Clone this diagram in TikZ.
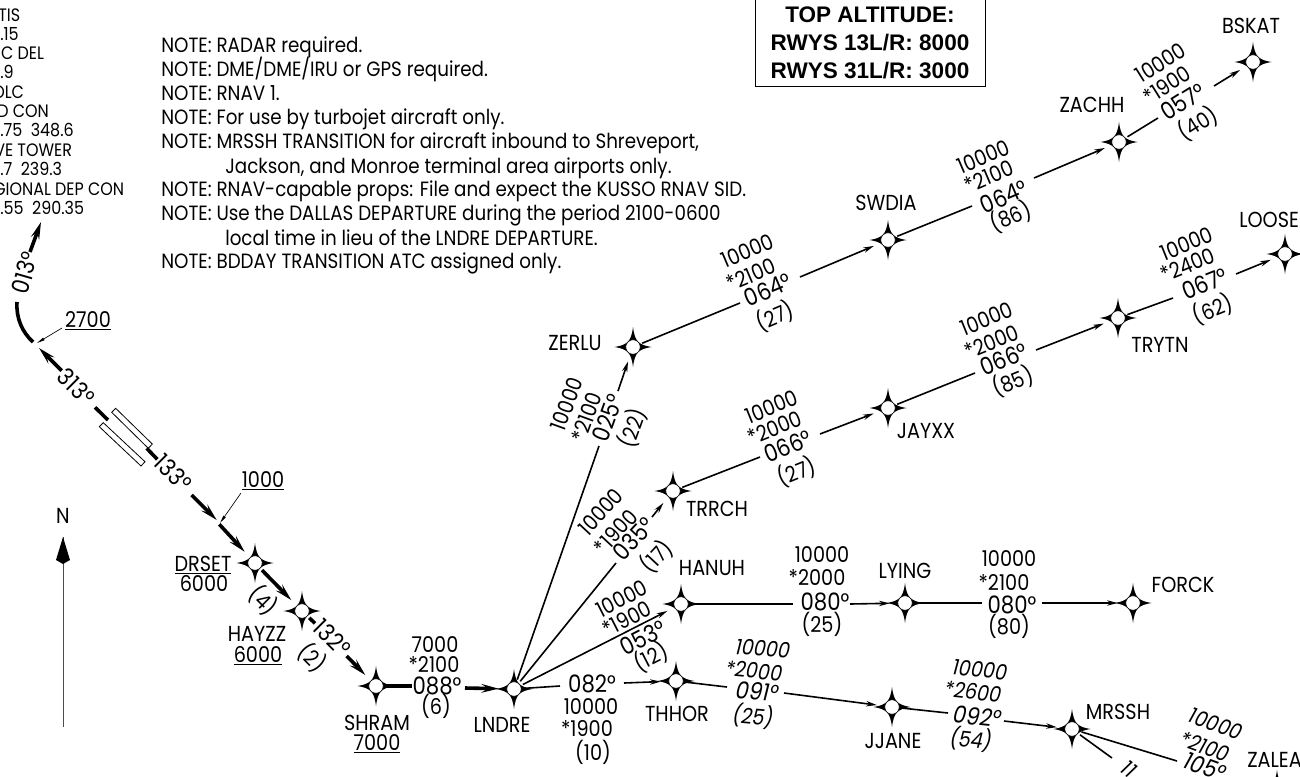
\documentclass[tikz,border=0pt]{standalone}
\usepackage{fontspec}
\setmainfont{Poppins}[FakeStretch=0.885]
\newfontfamily\boxfont{Liberation Sans}
\usetikzlibrary{arrows.meta}
\tikzset{
  x=0.75pt,y=-0.75pt,
  lab/.style={inner sep=0pt,text height=11.5pt,text depth=0pt,font=\fontsize{16.3}{17}\selectfont},
  ital/.style={lab,font=\fontsize{16.3}{17}\selectfont\itshape},
  deg/.style={inner sep=0pt,text height=12.6pt,text depth=0pt,font=\fontsize{18}{19}\selectfont},
  degi/.style={deg,font=\fontsize{18}{19}\selectfont\itshape},
  note/.style={inner sep=0pt,text height=10.8pt,text depth=0pt,anchor=west,font=\fontsize{15.5}{16}\selectfont},
  freq/.style={inner sep=0pt,text height=9.5pt,text depth=0pt,anchor=west,font=\fontsize{13.5}{14}\selectfont},
  wpnode/.style={circle,minimum size=22.5pt,inner sep=0pt},
  conn/.style={line width=1.2pt,black,shorten <=-4pt},
  arr/.style={line width=1.2pt,black,-{Stealth[length=8pt,width=4pt,inset=2.5pt]}},
  thk/.style={line width=2.7pt,black},
  thkw/.style={thk,shorten <=-4pt},
  thkarr/.style={thk,-{Stealth[length=13pt,width=6.5pt,inset=5pt]}},
  leader/.style={line width=0.5pt,black,-{Stealth[length=6pt,width=2pt,inset=0pt]}},
  hair/.style={line width=0.6pt,black},
  titlebox/.style={font=\boxfont\bfseries\fontsize{16.9}{21}\selectfont,inner sep=0pt,align=center},
}
\newcommand\wpt[3]{%
  \fill[black,shift={(#2,#3)}] (0,-20) .. controls (1,-12) and (2.5,-8) .. (5.2,-5.2)
    .. controls (8,-2.5) and (12,-1) .. (18.5,0)
    .. controls (12,1) and (8,2.5) .. (5.2,5.2)
    .. controls (2.5,8) and (1,12) .. (0,20)
    .. controls (-1,12) and (-2.5,8) .. (-5.2,5.2)
    .. controls (-8,2.5) and (-12,1) .. (-18.5,0)
    .. controls (-12,-1) and (-8,-2.5) .. (-5.2,-5.2)
    .. controls (-2.5,-8) and (-1,-12) .. (0,-20) -- cycle;
  \filldraw[fill=white,draw=black,line width=0.4pt,shift={(#2,#3)}] (0,0) circle[radius=5.4pt];
  \node[wpnode] (#1) at (#2,#3) {};}
\begin{document}
\begin{tikzpicture}
\useasboundingbox (0,0) rectangle (1300,776);
\fill[white] (0,0) rectangle (1300,776);
% waypoints
\wpt{DRSET}{255}{563}\wpt{HAYZZ}{302}{611}\wpt{SHRAM}{376}{686}\wpt{LNDRE}{514}{689}
\wpt{THHOR}{676}{681}\wpt{HANUH}{681}{604}\wpt{TRRCH}{673}{491}\wpt{ZERLU}{633}{347}
\wpt{JAYXX}{888}{408}\wpt{SWDIA}{888}{240}\wpt{ZACHH}{1119}{142}\wpt{BSKAT}{1253}{62}
\wpt{TRYTN}{1118}{318}\wpt{LOOSE}{1285}{254}\wpt{LYING}{905}{603}\wpt{FORCK}{1133}{603}
\wpt{JJANE}{892}{707}\wpt{MRSSH}{1072}{729}\wpt{ZALEA}{1277}{790}
% box
\node[draw=black,line width=0.6pt,minimum width=172.5pt,minimum height=69pt,inner sep=0pt] (topbox) at (870,40) {};
\node[titlebox] (topt) at (870,43) {TOP ALTITUDE:\\RWYS 13L/R: 8000\\RWYS 31L/R: 3000};
% frequency list
\node[freq] (f1) at (-2,15) {TIS};
\node[freq] (f2) at (0,34) {.15};
\node[freq] (f3) at (-3,53) {IC DEL};
\node[freq] (f4) at (0,72) {.9};
\node[freq] (f5) at (-8,92) {OLC};
\node[freq] (f6) at (-3,111) {D CON};
\node[freq] (f7) at (0,130) {.75\ \ 348.6};
\node[freq] (f8) at (-6,150) {VE TOWER};
\node[freq] (f9) at (0,169) {.7\ \ 239.3};
\node[freq] (f10) at (-7,189) {GIONAL DEP CON};
\node[freq] (f11) at (0,208) {.55\ \ 290.35};
% notes
\node[note] (n1) at (161,45) {NOTE: RADAR required.};
\node[note] (n2) at (161,69) {NOTE: DME/DME/IRU or GPS required.};
\node[note] (n3) at (161,93) {NOTE: RNAV 1.};
\node[note] (n4) at (161,117) {NOTE: For use by turbojet aircraft only.};
\node[note] (n5) at (161,141) {NOTE: MRSSH TRANSITION for aircraft inbound to Shreveport,};
\node[note] (n6) at (225,166) {Jackson, and Monroe terminal area airports only.};
\node[note] (n7) at (161,189) {NOTE: RNAV-capable props: File and expect the KUSSO RNAV SID.};
\node[note] (n8) at (161,213) {NOTE: Use the DALLAS DEPARTURE during the period 2100-0600};
\node[note] (n9) at (225,238) {local time in lieu of the LNDRE DEPARTURE.};
\node[note] (n10) at (161,261) {NOTE: BDDAY TRANSITION ATC assigned only.};
% north arrow
\node[lab] (N) at (63,516) {N};
\coordinate (nb) at (63,727);
\coordinate (nt) at (63,537);
\draw[line width=0.7pt,black!70] (nb) -- (nt);
\fill[black] (nt) -- (70,560) -- (63,564) -- (56,560) -- cycle;
% runway
\draw[hair] (115.7,408.3) -- (152.3,444) -- (148.3,448.3) -- (111.7,412.3) -- cycle;
\draw[hair] (103.3,422.7) -- (145,461.7) -- (141,466) -- (99.3,426.7) -- cycle;
% initial climb
\coordinate (a1) at (95,407.3);\coordinate (a2) at (108,420);
\coordinate (a3) at (146.7,448.3);\coordinate (a4) at (157.3,459.3);
\coordinate (a5) at (191.7,495);\coordinate (a6) at (216.7,520);
\coordinate (a7) at (219.3,524.3);
\coordinate (a8) at (61.7,370.7);\coordinate (a9) at (39,348);
\coordinate (a10) at (33,342);\coordinate (a11) at (17,302);
\coordinate (a12) at (30,252);\coordinate (a13) at (41,222);
\draw[thk] (a1) -- (a2);
\draw[thk] (a3) -- (a4);
\draw[thkarr] (a5) -- (a6);
\draw[thkarr] (a7) -- (DRSET);
\draw[thkarr,shorten <=-4pt] (DRSET) -- (HAYZZ);
\coordinate (a14) at (315,623.3);
\draw[thkw] (HAYZZ) -- (a14);
\coordinate (a15) at (346.7,656);
\draw[thkarr] (a15) -- (SHRAM);
\coordinate (a16) at (411.7,686);\coordinate (a17) at (465,688);
\draw[thkw] (SHRAM) -- (a16);
\draw[thkarr] (a17) -- (LNDRE);
\draw[thkarr] (a8) -- (a9);
\draw[thk] (a10) .. controls (22,332) and (16,318) .. (a11);
\draw[thkarr] (a12) -- (a13);
\node[deg,rotate=-45] (d313) at (76,387) {313°};
\node[deg,rotate=-45] (d133) at (173,473) {133°};
\node[deg,rotate=74] (d013) at (25,273) {013°};
\node[deg,rotate=-45] (d132) at (332,638) {132°};
\node[lab,anchor=center] (alt27) at (88,320) {\underline{2700}};
\coordinate (l27) at (62,328);\coordinate (l27e) at (37,343);
\draw[leader] (l27) -- (l27e);
\node[lab] (alt10) at (263,480) {\underline{1000}};
\coordinate (l10) at (241,493);\coordinate (l10e) at (220,523);
\draw[leader] (l10) -- (l10e);
\node[lab,rotate=-45] (p4) at (263,601) {(4)};
\node[lab,rotate=-45] (p2) at (312,658) {(2)};
\node[lab] (tDRSET) at (203,564) {\underline{DRSET}};
\node[lab] (aDRSET) at (204,584) {6000};
\node[lab] (tHAYZZ) at (257,634) {HAYZZ};
\node[lab] (aHAYZZ) at (258,655) {\underline{6000}};
\node[lab] (tSHRAM) at (377,723) {SHRAM};
\node[lab] (aSHRAM) at (377,743) {\underline{7000}};
\node[lab] (s1) at (435,645) {7000};
\node[lab] (s2) at (434,665) {*2100};
\node[deg] (s3) at (437,686) {088°};
\node[lab] (s4) at (436,707) {(6)};
% waypoint names
\node[lab] (tZERLU) at (575,343) {ZERLU};
\node[lab] (tTRRCH) at (717,509) {TRRCH};
\node[lab] (tHANUH) at (712,568) {HANUH};
\node[lab] (tLYING) at (905,571) {LYING};
\node[lab] (tFORCK) at (1183,585) {FORCK};
\node[lab] (tTHHOR) at (677,714) {THHOR};
\node[lab] (tLNDRE) at (502,725) {LNDRE};
\node[lab] (tJJANE) at (893,741) {JJANE};
\node[lab] (tMRSSH) at (1118,712) {MRSSH};
\node[lab,anchor=west] (tZALEA) at (1247,760) {ZALEA};
\node[lab] (tJAYXX) at (926,431) {JAYXX};
\node[lab] (tTRYTN) at (1160,345) {TRYTN};
\node[lab] (tSWDIA) at (886,203) {SWDIA};
\node[lab] (tZACHH) at (1092,105) {ZACHH};
\node[lab] (tBSKAT) at (1251,26) {BSKAT};
\node[lab,anchor=west] (tLOOSE) at (1239,220) {LOOSE};
% LNDRE - ZERLU
\coordinate (b1) at (599,446);\coordinate (b2) at (618,391);
\draw[conn] (LNDRE) -- (b1);\draw[arr] (b2) -- (ZERLU);
\node[lab,rotate=70] at (567,404) (b3) {10000};
\node[lab,rotate=70] at (587,417) (b4) {*2100};
\node[deg,rotate=70] at (608,418) (b5) {025°};
\node[lab,rotate=70] at (633,428) (b6) {(22)};
% LNDRE - TRRCH
\coordinate (c1) at (616,563);\coordinate (c2) at (652,517);
\draw[conn] (LNDRE) -- (c1);\draw[arr] (c2) -- (TRRCH);
\node[lab,rotate=47] at (601,512) (c3) {10000};
\node[lab,rotate=47] at (616,532) (c4) {*1900};
\node[deg,rotate=47] at (634,539) (c5) {035°};
\node[lab,rotate=47] at (657,557) (c6) {(17)};
% LNDRE - HANUH
\draw[arr,shorten <=-4pt] (LNDRE) -- (HANUH);
\node[lab,rotate=27] at (622,599) (e3) {10000};
\node[lab,rotate=27] at (627,619) (e4) {*1900};
\node[deg,rotate=27] at (643,638) (e5) {053°};
\node[lab,rotate=27] at (651,658) (e6) {(12)};
% LNDRE - THHOR
\coordinate (g1) at (560,686);\coordinate (g2) at (624,683);
\draw[conn] (LNDRE) -- (g1);\draw[arr] (g2) -- (THHOR);
\node[deg] at (592,684) (g3) {082°};
\node[lab] at (591,707) (g4) {10000};
\node[lab] at (587,729) (g5) {*1900};
\node[lab] at (593,753) (g6) {(10)};
% THHOR - JJANE
\coordinate (h1) at (727,687);\coordinate (h2) at (784,693);
\draw[conn] (THHOR) -- (h1);\draw[arr] (h2) -- (JJANE);
\node[degi,rotate=-5] at (757,692) (h3) {091°};
\node[ital,rotate=-5] at (763,649) (h4) {10000};
\node[ital,rotate=-5] at (754,671) (h5) {*2000};
\node[ital,rotate=-5] at (753,717) (h6) {(25)};
% HANUH - LYING
\coordinate (i1) at (793,604);\coordinate (i2) at (850,604);
\draw[conn] (HANUH) -- (i1);\draw[arr] (i2) -- (LYING);
\node[deg] at (825,602) (i3) {080°};
\node[lab] at (822,555) (i4) {10000};
\node[lab] at (817,578) (i5) {*2000};
\node[lab] at (822,625) (i6) {(25)};
% LYING - FORCK
\coordinate (j1) at (982,603);\coordinate (j2) at (1042,603);
\draw[conn] (LYING) -- (j1);\draw[arr] (j2) -- (FORCK);
\node[deg] at (1012,605) (j3) {080°};
\node[lab] at (1009,559) (j4) {10000};
\node[lab] at (1004,583) (j5) {*2100};
\node[lab] at (1009,627) (j6) {(80)};
% JJANE - MRSSH
\coordinate (k1) at (948,713);\coordinate (k2) at (1004,721);
\draw[conn] (JJANE) -- (k1);\draw[arr] (k2) -- (MRSSH);
\node[degi,rotate=-6] at (977,717) (k3) {092°};
\node[ital,rotate=-6] at (980,670) (k4) {10000};
\node[ital,rotate=-6] at (973,692) (k5) {*2600};
\node[ital,rotate=-6] at (971,740) (k6) {(54)};
% MRSSH - ZALEA
\coordinate (m1) at (1177,761);\coordinate (m2) at (1112,758);
\draw[conn] (MRSSH) -- (m1);\draw[conn] (MRSSH) -- (m2);
\node[degi,rotate=-20] at (1205,767) (m3) {105°};
\node[ital,rotate=-20] at (1216,724) (m4) {10000};
\node[ital,rotate=-20] at (1205,747) (m5) {*2100};
\node[ital,rotate=-37] at (1129,769) (m6) {11};
% TRRCH - JAYXX
\coordinate (o1) at (760,457);\coordinate (o2) at (820,434);
\draw[conn] (TRRCH) -- (o1);\draw[arr] (o2) -- (JAYXX);
\node[deg,rotate=22] at (788,447) (o3) {066°};
\node[lab,rotate=22] at (772,407) (o4) {10000};
\node[lab,rotate=22] at (775,428) (o5) {*2000};
\node[lab,rotate=22] at (797,472) (o6) {(27)};
% JAYXX - TRYTN
\coordinate (q1) at (975,373);\coordinate (q2) at (1036,350);
\draw[conn] (JAYXX) -- (q1);\draw[arr] (q2) -- (TRYTN);
\node[deg,rotate=22] at (1004,360) (q3) {066°};
\node[lab,rotate=22] at (987,319) (q4) {10000};
\node[lab,rotate=22] at (992,342) (q5) {*2000};
\node[lab,rotate=22] at (1013,382) (q6) {(85)};
% TRYTN - LOOSE
\coordinate (r1) at (1173,298);\coordinate (r2) at (1236,274);
\draw[conn] (TRYTN) -- (r1);\draw[arr] (r2) -- (LOOSE);
\node[deg,rotate=22] at (1205,284) (r3) {067°};
\node[lab,rotate=22] at (1187,244) (r4) {10000};
\node[lab,rotate=22] at (1188,265) (r5) {*2400};
\node[lab,rotate=22] at (1213,310) (r6) {(62)};
% ZERLU - SWDIA
\coordinate (t1) at (740,303);\coordinate (t2) at (800,277);
\draw[conn] (ZERLU) -- (t1);\draw[arr] (t2) -- (SWDIA);
\node[deg,rotate=23] at (768,290) (t3) {064°};
\node[lab,rotate=23] at (748,251) (t4) {10000};
\node[lab,rotate=23] at (751,275) (t5) {*2100};
\node[lab,rotate=23] at (775,317) (t6) {(27)};
% SWDIA - ZACHH
\coordinate (u1) at (972,206);\coordinate (u2) at (1034,178);
\draw[conn] (SWDIA) -- (u1);\draw[arr] (u2) -- (ZACHH);
\node[deg,rotate=23] at (1004,197) (u3) {064°};
\node[lab,rotate=23] at (984,157) (u4) {10000};
\node[lab,rotate=23] at (989,177) (u5) {*2100};
\node[lab,rotate=23] at (1011,217) (u6) {(86)};
% ZACHH - BSKAT
\coordinate (v1) at (1158,118);\coordinate (v2) at (1214,86);
\draw[conn] (ZACHH) -- (v1);\draw[arr] (v2) -- (BSKAT);
\node[deg,rotate=32] at (1183,102) (v3) {057°};
\node[lab,rotate=32] at (1161,63) (v4) {10000};
\node[lab,rotate=32] at (1167,85) (v5) {*1900};
\node[lab,rotate=32] at (1198,124) (v6) {(40)};
\end{tikzpicture}
\end{document}
